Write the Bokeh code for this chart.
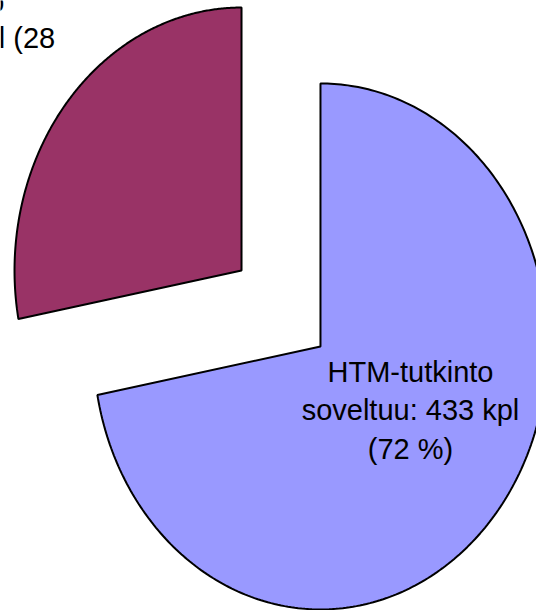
import numpy as np
from bokeh.plotting import figure
from bokeh.models import Range1d, ColumnDataSource
from bokeh.core.properties import value
from bokeh.embed import file_html
from bokeh.resources import INLINE

# ---- data ----
categories = ["HTM-tutkinto soveltuu", "Muu tutkinto soveltuu"]
counts = [433, 168]
colors = ["#9999FF", "#993366"]

total = sum(counts)
pcts = [round(100 * c / total) for c in counts]
label_lines = [
    ["HTM-tutkinto", f"soveltuu: {counts[0]} kpl", f"({pcts[0]} %)"],
    ["Muu tutkinto", f"soveltuu:{counts[1]} kpl ({pcts[1]}", "%)"],
]

# ---- style / layout constants ----
EXPLODE = 0.226
LABEL_R = [0.465, 1.6486]
LABEL_ANG = [-31.5, 147.63]   # degrees, label direction from slice centre
LINE_STEP = [0.1464, 0.1400]  # line spacing in data units

p = figure(width=536, height=610, output_backend="svg", toolbar_location=None,
           x_range=Range1d(-1.2357, 1.1256), y_range=Range1d(-1.1483, 1.1711),
           x_axis_location=None, y_axis_location=None, min_border=0)
p.grid.visible = False
p.outline_line_color = None
p.background_fill_color = "white"
p.border_fill_color = "white"

xs, ys, fills = [], [], []
tx, ty, tt = [], [], []
start = np.pi / 2
for i, c in enumerate(counts):
    frac = c / total
    end = start - 2 * np.pi * frac
    mid = (start + end) / 2
    cx, cy = EXPLODE * np.cos(mid), EXPLODE * np.sin(mid)
    th = np.linspace(start, end, 300)
    xs.append(np.concatenate([[cx], cx + np.cos(th), [cx]]).tolist())
    ys.append(np.concatenate([[cy], cy + np.sin(th), [cy]]).tolist())
    fills.append(colors[i])
    a = np.deg2rad(LABEL_ANG[i])
    lx, ly = cx + LABEL_R[i] * np.cos(a), cy + LABEL_R[i] * np.sin(a)
    n = len(label_lines[i])
    for k, line in enumerate(label_lines[i]):
        tx.append(lx)
        ty.append(ly + ((n - 1) / 2 - k) * LINE_STEP[i])
        tt.append(line)
    start = end

src = ColumnDataSource(dict(xs=xs, ys=ys, fill=fills, cat=categories))
p.patches("xs", "ys", source=src, fill_color="fill", line_color="black", line_width=2)

tsrc = ColumnDataSource(dict(x=tx, y=ty, text=tt))
p.text("x", "y", text="text", source=tsrc, text_font=value("Liberation Sans"),
       text_font_size="29px", text_align="center", text_baseline="middle",
       text_color="black")

open("out.html", "w").write(file_html(p, INLINE))
